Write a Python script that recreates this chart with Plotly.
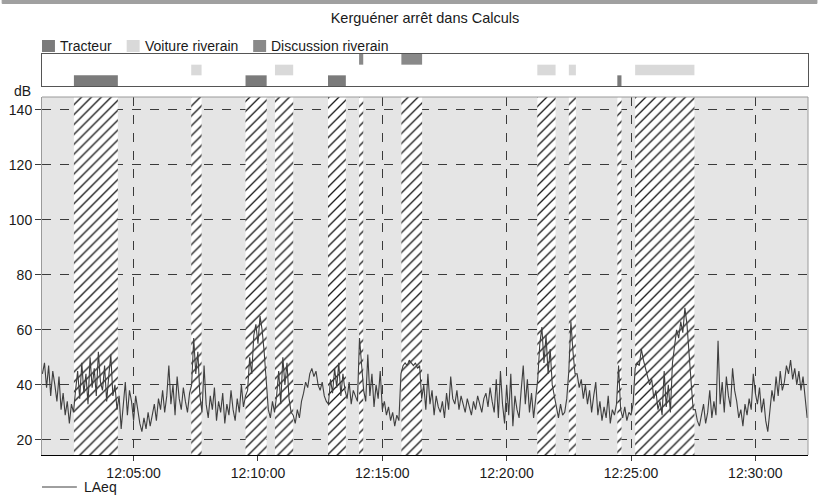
import pandas as pd
import plotly.graph_objects as go

DAY = "2024-06-12 "

# LAeq (dB), one sample every 5 s starting at 12:01:20
laeq_start = "12:01:20"
laeq_step_s = 5
laeq = (
    [44, 48, 39, 47, 36, 45, 40, 34, 43, 31, 37, 29, 34, 26, 33, 30]
    + [38, 45, 35, 48, 37, 44, 33, 50, 39, 46, 36, 52, 41, 38, 47, 34, 43, 51, 36, 40, 31]
    + [36, 24, 33, 41, 29, 38, 34, 27, 36, 31, 26, 23, 28, 24, 30, 25, 29, 33, 27, 35,
       31, 38, 30, 36, 47, 33, 40, 29, 43, 35, 31, 39, 34, 30, 37]
    + [40, 57, 44, 52, 36]
    + [30, 47, 33, 28, 36, 31, 39, 27, 34, 30, 37, 26, 33, 29, 38, 31, 27, 35, 30, 40, 32, 36]
    + [38, 50, 44, 58, 62, 55, 65, 60, 52, 41]
    + [31, 28, 34, 30]
    + [36, 45, 33, 50, 40, 48, 35, 30]
    + [29, 26, 31, 28, 34, 37, 41, 39, 44, 46, 43, 45, 40, 38, 41, 36, 34]
    + [33, 42, 37, 46, 39, 48, 36, 44, 38]
    + [35, 41, 33, 38, 36, 34]
    + [57, 48]
    + [38, 34, 51, 36, 44, 32, 40, 35, 45, 31, 34, 29, 32, 27, 30, 25, 29, 27]
    + [44, 47, 48, 47, 49, 48, 47, 48, 46, 47]
    + [35, 40, 31, 44, 33, 38, 29, 36, 32, 30, 34, 28, 37, 31, 43, 35, 33, 38, 31, 36,
       33, 30, 35, 32, 29, 34, 31, 36, 33, 30, 35, 37, 32, 39, 34, 30, 42, 28, 45, 33,
       26, 40, 29, 44, 25, 36, 31, 28, 38, 47, 33, 42, 30, 37, 28, 34]
    + [42, 55, 61, 48, 58, 44, 53, 40, 36]
    + [31, 28, 33, 29, 30, 35]
    + [45, 63, 52, 44]
    + [44, 39, 42, 35, 40, 33, 38, 30, 36, 41, 29, 34, 27, 32, 28, 36, 26, 31, 29, 33]
    + [47, 31]
    + [28, 32, 27, 30, 29, 33]
    + [46, 48, 47, 53, 49, 46, 44, 40, 42, 35, 38, 31, 34, 29, 45, 32, 40, 30, 48, 55,
       60, 57, 63, 59, 68, 62, 50, 41, 31]
    + [31, 27, 25, 29, 33, 26, 30, 38, 28, 34, 29, 56, 33, 41, 30, 43, 36, 32, 46, 38,
       34, 28, 31, 25, 33, 29, 35, 31, 44, 37, 33, 39, 30, 35, 27, 23, 32, 38, 34, 43,
       36, 45, 38, 41, 47, 44, 49, 42, 46, 40, 45, 38, 43, 36, 28]
)

# Annotated events
event_kind = ["Tracteur", "Voiture riverain", "Tracteur", "Voiture riverain", "Tracteur",
              "Discussion riverain", "Discussion riverain", "Voiture riverain",
              "Voiture riverain", "Tracteur", "Voiture riverain"]
event_start = ["12:02:36", "12:07:19", "12:09:30", "12:10:41", "12:12:49", "12:14:04",
               "12:15:46", "12:21:14", "12:22:30", "12:24:27", "12:25:10"]
event_end = ["12:04:22", "12:07:44", "12:10:21", "12:11:25", "12:13:32", "12:14:14",
             "12:16:36", "12:21:58", "12:22:47", "12:24:37", "12:27:33"]

kinds = ["Tracteur", "Voiture riverain", "Discussion riverain"]
kind_colors = ["#7b7b7b", "#d9d9d9", "#898989"]

y_ticks = [20, 40, 60, 80, 100, 120, 140]
y_range = [14.5, 144.7]
x_range = ["12:01:19", "12:32:07"]

# ---- derived values ----
t_laeq = pd.date_range(DAY + laeq_start, periods=len(laeq), freq=f"{laeq_step_s}s")
ev0 = pd.to_datetime([DAY + s for s in event_start])
ev1 = pd.to_datetime([DAY + s for s in event_end])
dur_ms = [(b - a).total_seconds() * 1000 for a, b in zip(ev0, ev1)]
mid = [a + (b - a) / 2 for a, b in zip(ev0, ev1)]

fig = go.Figure()

# hatched event windows on the level plot
fig.add_trace(go.Bar(
    x=mid, y=[y_range[1] - y_range[0]] * len(mid), base=y_range[0], width=dur_ms,
    marker=dict(color="white", line_width=0,
                pattern=dict(shape="/", fgcolor="#161616", bgcolor="white",
                             size=7, solidity=0.19, fillmode="replace")),
    xaxis="x", yaxis="y", showlegend=False, hoverinfo="skip",
))

# LAeq curve
fig.add_trace(go.Scatter(
    x=t_laeq, y=laeq, mode="lines", name="LAeq",
    line=dict(color="#3f3f3f", width=1.1), xaxis="x", yaxis="y", showlegend=False,
))

# event strip
for kind, color in zip(kinds, kind_colors):
    sel = [i for i, k in enumerate(event_kind) if k == kind]
    fig.add_trace(go.Bar(
        orientation="h", y=[kind] * len(sel),
        base=[ev0[i].strftime("%Y-%m-%d %H:%M:%S") for i in sel],
        x=[dur_ms[i] for i in sel], width=1.0,
        marker=dict(color=color, line_width=0), name=kind,
        xaxis="x2", yaxis="y2", showlegend=False,
    ))

W, H = 818, 495
ML, MR, MT, MB = 40, 9, 54, 40
PW, PH = W - ML - MR, H - MT - MB


def px_x(x):
    return (x - ML) / PW


def px_y(y):
    return (H - MB - y) / PH


font_family = "Liberation Sans, Arial, Helvetica, sans-serif"
grid_col = "#3a3a3a"

fig.update_layout(
    width=W, height=H,
    margin=dict(l=ML, r=MR, t=MT, b=MB),
    paper_bgcolor="white", plot_bgcolor="white",
    barmode="overlay", showlegend=False,
    font=dict(family=font_family, size=14, color="#1a1a1a"),
    title=dict(text="Kerguéner arrêt dans Calculs", x=0.5, xref="paper", xanchor="center",
               y=1 - 18 / H, yref="container", yanchor="middle",
               font=dict(size=14.5, color="#1a1a1a")),
    xaxis=dict(type="date", range=[DAY + x_range[0], DAY + x_range[1]],
               tickformat="%H:%M:%S", tick0=DAY + "12:00:00", dtick=300000,
               showgrid=True, gridcolor=grid_col, griddash="dash", gridwidth=1,
               showline=True, linecolor="black", linewidth=1,
               ticks="outside", ticklen=5, tickcolor=grid_col,
               zeroline=False, anchor="y", domain=[0, 1]),
    yaxis=dict(range=y_range, tickvals=y_ticks, showgrid=True, gridcolor=grid_col,
               griddash="dash", gridwidth=1, showline=True, linecolor="#9a9a9a",
               ticks="outside", ticklen=6, tickcolor=grid_col, zeroline=False,
               domain=[0, px_y(97)], anchor="x"),
    xaxis2=dict(matches="x", type="date", anchor="y2", showticklabels=False,
                showgrid=False, ticks="", showline=True, mirror=True,
                linecolor="#555555", zeroline=False),
    yaxis2=dict(domain=[px_y(86), 1], type="category", categoryorder="array",
                categoryarray=kinds, range=[-0.5, 2.5], showticklabels=False,
                showgrid=False, showline=True, mirror=True, linecolor="#555555",
                ticks="", zeroline=False, anchor="x2"),
)

shapes = [
    # light grey plot background
    dict(type="rect", xref="x domain", yref="y domain", x0=0, x1=1, y0=0, y1=1,
         fillcolor="#e5e5e5", line_width=0, layer="below"),
    # top and right frame of the level plot
    dict(type="line", xref="x domain", yref="y domain", x0=0, x1=1, y0=1, y1=1,
         line=dict(color="#9a9a9a", width=1), layer="above"),
    dict(type="line", xref="x domain", yref="y domain", x0=1, x1=1, y0=0, y1=1,
         line=dict(color="#9a9a9a", width=1), layer="above"),
    # window strip along the top
    dict(type="rect", xref="paper", yref="paper", x0=px_x(0), x1=px_x(W),
         y0=px_y(3.5), y1=px_y(0), fillcolor="#a0a0a0",
         line=dict(color="#a0a0a0", width=1), layer="above"),
    # LAeq key line
    dict(type="line", xref="paper", yref="paper", x0=px_x(40), x1=px_x(75),
         y0=px_y(487), y1=px_y(487), line=dict(color="#3f3f3f", width=1)),
]

annotations = [
    dict(text="dB", xref="paper", yref="paper", x=px_x(20), y=px_y(91),
         showarrow=False, xanchor="center", yanchor="middle"),
    dict(text="LAeq", xref="paper", yref="paper", x=px_x(80), y=px_y(487),
         showarrow=False, xanchor="left", yanchor="middle"),
]

# key for the event strip
key_sq_x = [40, 125, 252]
for kind, color, x0 in zip(kinds, kind_colors, key_sq_x):
    shapes.append(dict(type="rect", xref="paper", yref="paper",
                       x0=px_x(x0), x1=px_x(x0 + 13), y0=px_y(52), y1=px_y(40),
                       fillcolor=color, line_width=0))
    annotations.append(dict(text=kind, xref="paper", yref="paper",
                            x=px_x(x0 + 16), y=px_y(46), showarrow=False,
                            xanchor="left", yanchor="middle"))

fig.update_layout(shapes=shapes, annotations=annotations)

fig.write_html("out.html")
